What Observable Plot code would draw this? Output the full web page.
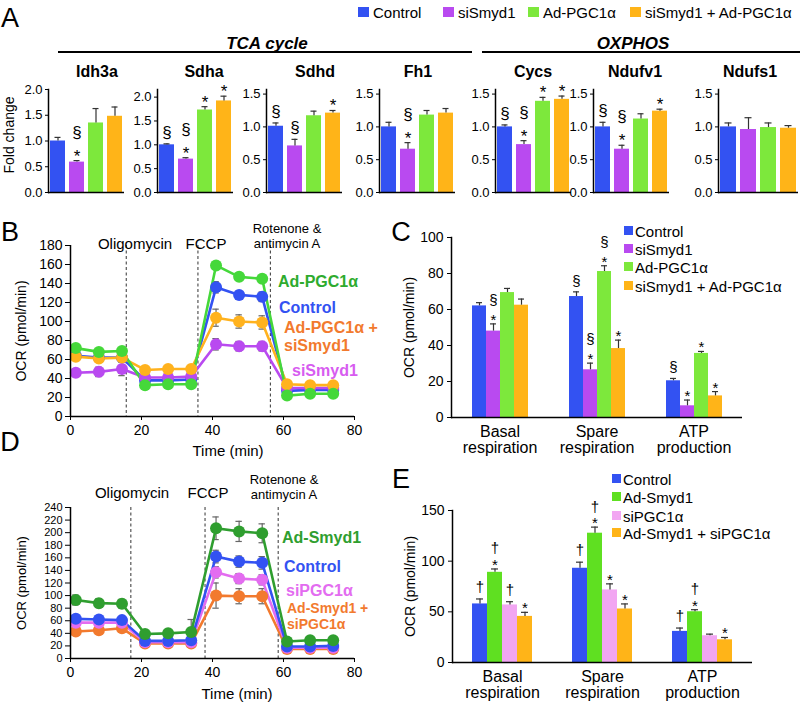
<!DOCTYPE html>
<html><head><meta charset="utf-8">
<script src="https://cdn.jsdelivr.net/npm/d3@7"></script>
<script src="https://cdn.jsdelivr.net/npm/@observablehq/plot@0.6"></script>
<style>
body{margin:0;background:#fff;font-family:"Liberation Sans",Arial,Helvetica,sans-serif;}
#fig{position:relative;width:800px;height:703px;overflow:hidden;background:#fff;}
.abs{position:absolute;white-space:nowrap;line-height:1;}
.grp g[aria-label="fx-axis tick label"]{font-size:16px;}
.lineD g[aria-label="y-axis tick label"]{font-size:11px;}
.lineD g[aria-label="x-axis tick label"]{font-size:14px;}
</style></head><body><div id="fig"></div>
<script>
// ---------------- DATA ----------------
// Panel A: fold change of genes
const seriesA = ["Control", "siSmyd1", "Ad-PGC1α", "siSmyd1 + Ad-PGC1α"];
const colorsA = ["#3352f2", "#b94af0", "#7de83c", "#ffb418"];
const genes = ["Idh3a", "Sdha", "Sdhd", "Fh1", "Cycs", "Ndufv1", "Ndufs1"];
const geneGroupNames = ["TCA cycle", "OXPHOS"];
const foldMeans = [
  [1.00, 0.59, 1.35, 1.48],
  [1.00, 0.70, 1.73, 1.92],
  [1.01, 0.71, 1.17, 1.21],
  [1.00, 0.66, 1.18, 1.21],
  [1.00, 0.73, 1.39, 1.42],
  [1.00, 0.66, 1.12, 1.24],
  [1.00, 0.96, 0.99, 0.98]
];
const foldErrs = [
  [0.07, 0.03, 0.28, 0.18],
  [0.02, 0.03, 0.07, 0.10],
  [0.05, 0.10, 0.07, 0.04],
  [0.07, 0.10, 0.07, 0.07],
  [0.03, 0.06, 0.06, 0.05],
  [0.07, 0.06, 0.08, 0.03],
  [0.06, 0.18, 0.07, 0.04]
];
const foldSig = [
  ["", "§\n*", "", ""],
  ["§", "§\n*", "*", "*"],
  ["§", "§", "", "*"],
  ["", "§\n*", "", ""],
  ["§", "§\n*", "*", "*"],
  ["§", "§\n*", "", "*"],
  ["", "", "", ""]
];
const foldMax = [2.0, 2.16, 1.57, 1.57, 1.57, 1.57, 1.57];
const foldTicks = [0, 0.5, 1.0, 1.5, 2.0];
const foldLabel = "Fold change";

// Panel B: OCR time course
const times = [1.5, 8, 14.5, 21, 27.5, 34, 41, 47.5, 54, 61, 67.5, 74];
const seriesB = ["Control", "siSmyd1", "siSmyd1 + Ad-PGC1α", "Ad-PGC1α"];
const colorsB = ["#3352f2", "#b94af0", "#ffb21e", "#45d83a"];
const ocrB = [
  [64, 62, 62, 38, 38, 39, 136, 128, 126, 27, 28, 28],
  [46, 47, 50, 41, 41, 42, 76, 74, 74, 30, 30, 30],
  [63, 61, 62, 49, 50, 50, 104, 100, 99, 34, 33, 33],
  [72, 68, 69, 33, 34, 34, 159, 147, 145, 22, 24, 24]
];
const errB = [
  [3, 3, 3, 3, 3, 3, 6, 4, 5, 2, 2, 2],
  [4, 5, 7, 3, 3, 3, 6, 5, 5, 2, 2, 2],
  [3, 3, 3, 3, 3, 3, 9, 7, 7, 2, 2, 2],
  [2, 2, 2, 2, 2, 2, 3, 2, 2, 2, 2, 2]
];
const injectionsB = [15.7, 35.9, 56.3];
const ticksB = [0, 20, 40, 60, 80, 100, 120, 140, 160, 180];
const labelsB = ["Ad-PGC1α", "Control", "Ad-PGC1α +\nsiSmyd1", "siSmyd1"];

// Panel C: respiration parameters
const groupsC = ["Basal respiration", "Spare respiration", "ATP production"];
const seriesC = ["Control", "siSmyd1", "Ad-PGC1α", "siSmyd1 + Ad-PGC1α"];
const colorsC = ["#3352f2", "#b94af0", "#7de83c", "#ffb418"];
const meansC = [[62, 48, 69.4, 62.4], [67.2, 26.5, 81.1, 38.3], [20.4, 6.5, 35.6, 12]];
const errsC = [[1.8, 4, 2.3, 3.4], [2.6, 3.7, 3.2, 4.7], [1.3, 3.2, 1.1, 2.4]];
const sigC = [["", "§\n*", "", ""], ["§", "§\n*", "§\n*", "*"], ["§", "*", "*", "*"]];
const ticksC = [0, 20, 40, 60, 80, 100];

// Panel D: OCR time course
const seriesD = ["Ad-Smyd1 + siPGC1α", "siPGC1α", "Control", "Ad-Smyd1"];
const colorsD = ["#f27a2e", "#e36cf0", "#3352f2", "#2f9e2f"];
const ocrD = [
  [43, 45, 48, 24, 24, 24, 100, 99, 99, 15, 15, 15],
  [57, 57, 57, 26, 26, 26, 137, 127, 125, 17, 17, 17],
  [63, 62, 61, 28, 28, 29, 162, 154, 152, 19, 19, 20],
  [93, 88, 87, 39, 40, 42, 207, 202, 199, 27, 29, 29]
];
const errD = [
  [4, 4, 4, 2, 2, 2, 20, 12, 12, 2, 2, 2],
  [5, 5, 5, 3, 3, 3, 9, 8, 8, 2, 2, 2],
  [5, 5, 5, 3, 3, 3, 10, 9, 10, 2, 2, 2],
  [8, 7, 7, 3, 3, 20, 18, 16, 15, 3, 3, 3]
];
const injectionsD = [17, 37.9, 58.5];
const ticksD = [0, 20, 40, 60, 80, 100, 120, 140, 160, 180, 200, 220, 240];
const labelsD = ["Ad-Smyd1", "Control", "siPGC1α", "Ad-Smyd1 +\nsiPGC1α"];

// Panel E
const groupsE = ["Basal respiration", "Spare respiration", "ATP production"];
const seriesE = ["Control", "Ad-Smyd1", "siPGC1α", "Ad-Smyd1 + siPGC1α"];
const colorsE = ["#3352f2", "#5fe021", "#f2a6f2", "#ffb418"];
const meansE = [[57.8, 89, 56.8, 45.5], [93, 127.6, 71.6, 52.8], [30.7, 50.1, 26.4, 22.4]];
const errsE = [[4.9, 3.3, 3.2, 4], [6, 6, 6, 5], [3.3, 2, 1.6, 2.3]];
const sigE = [["†", "†\n*", "†", "*"], ["†", "†\n*", "*", "*"], ["†", "†\n*", "", "*"]];
const ticksE = [0, 50, 100, 150];

const injectionNames = ["Oligomycin", "FCCP", "Rotenone &\nantimycin A"];
const xTicksTime = [0, 20, 40, 60, 80];
const ocrLabel = "OCR (pmol/min)";
const timeLabel = "Time (min)";
const panelLetters = ["A", "B", "C", "D", "E"];

// ---------------- HELPERS ----------------
const FONT = '"Liberation Sans", Arial, Helvetica, sans-serif';
const fig = document.getElementById("fig");
function txt(content, x, y, o = {}) {
  const d = document.createElement("div");
  d.className = "abs";
  const lines = String(content).split("\n");
  lines.forEach((ln, i) => {
    if (i) d.appendChild(document.createElement("br"));
    d.appendChild(document.createTextNode(ln));
  });
  const tx = o.anchor === "start" ? "0" : o.anchor === "end" ? "-100%" : "-50%";
  d.style.left = x + "px";
  d.style.top = y + "px";
  d.style.fontSize = (o.size || 15) + "px";
  if (o.lh) d.style.lineHeight = o.lh + "px";
  d.style.textAlign = o.anchor === "start" ? "left" : "center";
  d.style.fontWeight = o.bold ? "bold" : "normal";
  d.style.fontStyle = o.italic ? "italic" : "normal";
  d.style.color = o.color || "#000";
  // y refers to the vertical centre of the first line
  const firstOffset = o.lh ? o.lh / 2 : (o.size || 15) / 2;
  d.style.transform = `translate(${tx},-${firstOffset}px)`;
  if (o.rotate) d.style.transform = `translate(${tx},-50%) rotate(${o.rotate}deg)`;
  fig.appendChild(d);
  return d;
}
function box(x, y, w, h, css) {
  const d = document.createElement("div");
  d.className = "abs";
  d.style.left = x + "px"; d.style.top = y + "px";
  d.style.width = w + "px"; d.style.height = h + "px";
  Object.assign(d.style, css);
  fig.appendChild(d);
}
function put(svg, left, top) {
  svg.style.position = "absolute";
  svg.style.left = left + "px";
  svg.style.top = top + "px";
  fig.appendChild(svg);
}
function styleOf(size) {
  return {fontFamily: FONT, fontSize: size + "px", background: "transparent", overflow: "visible", color: "#000"};
}
function sigMarks(rows, x, size, lh, dyStar, dyOther) {
  const top = d => d.mean + d.err;
  return [
    Plot.text(rows, {filter: d => d.sig.endsWith("*"), x, y: top, text: "sig", lineAnchor: "bottom", lineHeight: lh, dy: dyStar, fontSize: size, fill: "#000"}),
    Plot.text(rows, {filter: d => d.sig !== "" && !d.sig.endsWith("*"), x, y: top, text: "sig", lineAnchor: "bottom", lineHeight: lh, dy: dyOther, fontSize: size, fill: "#000"})
  ];
}

// ---------------- PANEL A ----------------
const layoutA = {axisX: [48, 157, 266, 379, 495, 593, 718], plotW: [76, 76, 76, 76, 76, 76, 80], titleX: [97, 204, 315, 418, 533, 635, 750]};
genes.forEach((gene, gi) => {
  const rows = seriesA.map((s, si) => ({series: s, mean: foldMeans[gi][si], err: foldErrs[gi][si], sig: foldSig[gi][si]}));
  const svg = Plot.plot({
    width: 30 + layoutA.plotW[gi] + 2, height: 118,
    marginLeft: 30, marginRight: 2, marginTop: 9, marginBottom: 6,
    style: styleOf(13),
    x: {domain: seriesA, axis: null, paddingInner: 0.2, paddingOuter: 0.08},
    y: {domain: [0, foldMax[gi]], ticks: foldTicks.filter(t => t <= foldMax[gi] + 1e-9), tickFormat: d3.format(".1f"), tickSize: 3, tickPadding: 3, label: null},
    color: {domain: seriesA, range: colorsA},
    marks: [
      Plot.barY(rows, {x: "series", y: "mean", fill: "series"}),
      Plot.ruleX(rows, {x: "series", y1: "mean", y2: d => d.mean + d.err, stroke: "#333", strokeWidth: 1.2}),
      Plot.tickY(rows, {x: "series", y: d => d.mean + d.err, stroke: "#333", strokeWidth: 1.2, insetLeft: 4.5, insetRight: 4.5}),
      sigMarks(rows, "series", 17, 1.4, 1, -6),
      Plot.ruleY([0], {strokeWidth: 1.5}),
      Plot.frame({anchor: "left", strokeWidth: 1.5})
    ]
  });
  put(svg, layoutA.axisX[gi] - 30, 80);
  txt(gene, layoutA.titleX[gi], 72, {size: 16, bold: true});
});
txt(foldLabel, 9, 135, {size: 14, rotate: -90});
// group headers
txt(geneGroupNames[0], 267, 43, {size: 17, bold: true, italic: true});
box(58, 51, 414, 0, {borderTop: "2px solid #000"});
txt(geneGroupNames[1], 633, 43, {size: 17, bold: true, italic: true});
box(482, 51, 318, 0, {borderTop: "2px solid #000"});
// legend A
const legendAX = [358, 443, 528, 630];
seriesA.forEach((s, i) => {
  box(legendAX[i], 7, 11, 10, {background: colorsA[i]});
  txt(s, legendAX[i] + 15, 12, {size: 15, anchor: "start"});
});

// ---------------- LINE PANELS ----------------
function linePanel(series, colors, values, errs, injections, ticks, yMax, left, top, plotH, tickFont, cls) {
  const rows = [];
  series.forEach((s, si) => times.forEach((t, ti) => rows.push({series: s, t, v: values[si][ti], e: errs[si][ti]})));
  const svg = Plot.plot({
    className: cls,
    width: 400, height: 12 + plotH + 45,
    marginLeft: 70, marginRight: 400 - 70 - 284, marginTop: 12, marginBottom: 45,
    style: styleOf(tickFont),
    x: {domain: [0, 80], ticks: xTicksTime, tickSize: 4, tickPadding: 5, label: null},
    y: {domain: [0, yMax], ticks, tickSize: 5, tickPadding: 3, label: ocrLabel, labelAnchor: "center", labelOffset: 54, labelArrow: "none"},
    color: {domain: series, range: colors},
    marks: [
      Plot.ruleX(injections, {stroke: "#333", strokeDasharray: "3,2.5", strokeWidth: 1}),
      Plot.ruleX(rows, {x: "t", y1: d => d.v - d.e, y2: d => d.v + d.e, stroke: "#666", strokeWidth: 1.2}),
      Plot.ruleY(rows, {y: d => d.v + d.e, x1: d => d.t - 0.9, x2: d => d.t + 0.9, stroke: "#666", strokeWidth: 1.2}),
      Plot.ruleY(rows, {y: d => d.v - d.e, x1: d => d.t - 0.9, x2: d => d.t + 0.9, stroke: "#666", strokeWidth: 1.2}),
      Plot.line(rows, {x: "t", y: "v", z: "series", stroke: "series", strokeWidth: 2.6}),
      Plot.dot(rows, {x: "t", y: "v", fill: "series", r: 6}),
      Plot.ruleX([0], {strokeWidth: 1.5}),
      Plot.ruleY([0], {strokeWidth: 1.5})
    ]
  });
  put(svg, left, top);
}
// B
linePanel(seriesB, colorsB, ocrB, errB, injectionsB, ticksB, 180, 0, 233, 171, 14, "lineB");
txt(injectionNames[0], 135, 243, {size: 15});
txt(injectionNames[1], 206, 243, {size: 15});
txt(injectionNames[2], 287, 229, {size: 13, lh: 14.7});
txt(timeLabel, 228, 450, {size: 15});
txt(labelsB[0], 278, 282, {size: 16, bold: true, anchor: "start", color: "#2eab2e"});
txt(labelsB[1], 279, 308, {size: 16, bold: true, anchor: "start", color: "#3352f2"});
txt(labelsB[2], 284, 328, {size: 16, bold: true, anchor: "start", color: "#f27a2e", lh: 18});
txt(labelsB[3], 292, 371, {size: 16, bold: true, anchor: "start", color: "#d75cf0"});
// D
linePanel(seriesD, colorsD, ocrD, errD, injectionsD, ticksD, 240, 0, 495, 151, 13, "lineD");
txt(injectionNames[0], 132, 492, {size: 15});
txt(injectionNames[1], 208, 492, {size: 15});
txt(injectionNames[2], 284, 480, {size: 13, lh: 14.7});
txt(timeLabel, 237, 693, {size: 15});
txt(labelsD[0], 282, 538, {size: 16, bold: true, anchor: "start", color: "#2f9e2f"});
txt(labelsD[1], 284, 567, {size: 16, bold: true, anchor: "start", color: "#3352f2"});
txt(labelsD[2], 286, 591, {size: 16, bold: true, anchor: "start", color: "#e36cf0"});
txt(labelsD[3], 287, 608, {size: 14, bold: true, anchor: "start", color: "#f27a2e", lh: 16});

// ---------------- GROUPED BAR PANELS ----------------
function groupPanel(groups, series, colors, means, errs, sigs, ticks, yMax, left, top, mLeft, plotW, plotH, lh, dyStar, dyOther) {
  const rows = [];
  groups.forEach((g, gi) => series.forEach((s, si) => rows.push({group: g, series: s, mean: means[gi][si], err: errs[gi][si], sig: sigs[gi][si]})));
  const svg = Plot.plot({
    className: "grp",
    width: 400, height: 12 + plotH + 42,
    marginLeft: mLeft, marginRight: 400 - mLeft - plotW, marginTop: 12, marginBottom: 42,
    style: styleOf(14),
    facet: {data: rows, x: "group"},
    fx: {domain: groups, axis: "bottom", paddingInner: 0, paddingOuter: 0, label: null, tickSize: 0, tickPadding: 8, tickFormat: d => d.replace(" ", "\n")},
    x: {domain: series, axis: null, paddingInner: 0, paddingOuter: 1.25},
    y: {domain: [0, yMax], ticks, tickSize: 4, tickPadding: 4, label: ocrLabel, labelAnchor: "center", labelOffset: 47, labelArrow: "none"},
    color: {domain: series, range: colors},
    marks: [
      Plot.barY(rows, {x: "series", y: "mean", fill: "series"}),
      Plot.ruleX(rows, {x: "series", y1: "mean", y2: d => d.mean + d.err, stroke: "#333", strokeWidth: 1.2}),
      Plot.tickY(rows, {x: "series", y: d => d.mean + d.err, stroke: "#333", strokeWidth: 1.2, insetLeft: 4, insetRight: 4}),
      sigMarks(rows, "series", 15, lh, dyStar, dyOther),
      Plot.ruleY([0], {strokeWidth: 1.5}),
      Plot.frame({anchor: "left", facetAnchor: "left", strokeWidth: 1.5})
    ]
  });
  put(svg, left, top);
}
// C
groupPanel(groupsC, seriesC, colorsC, meansC, errsC, sigC, ticksC, 100, 400, 225, 50, 293, 180, 1.35, 1, -6);
seriesC.forEach((s, i) => {
  box(624, [226, 244, 262, 281][i], 9, 9, {background: colorsC[i]});
  txt(s, 635, [231, 249, 267, 286][i], {size: 15, anchor: "start"});
});
// E
groupPanel(groupsE, seriesE, colorsE, meansE, errsE, sigE, ticksE, 150, 400, 498, 52, 300, 152, 1.1, 1, -7);
seriesE.forEach((s, i) => {
  box(612, [474, 492, 511, 528][i], 9, 9, {background: colorsE[i]});
  txt(s, 623, [479, 497, 516, 533][i], {size: 15, anchor: "start"});
});

// panel letters
txt(panelLetters[0], 10, 18, {size: 27});
txt(panelLetters[1], 10, 232, {size: 27});
txt(panelLetters[2], 401, 232, {size: 27});
txt(panelLetters[3], 10, 442, {size: 27});
txt(panelLetters[4], 401, 479, {size: 27});
</script></body></html>
